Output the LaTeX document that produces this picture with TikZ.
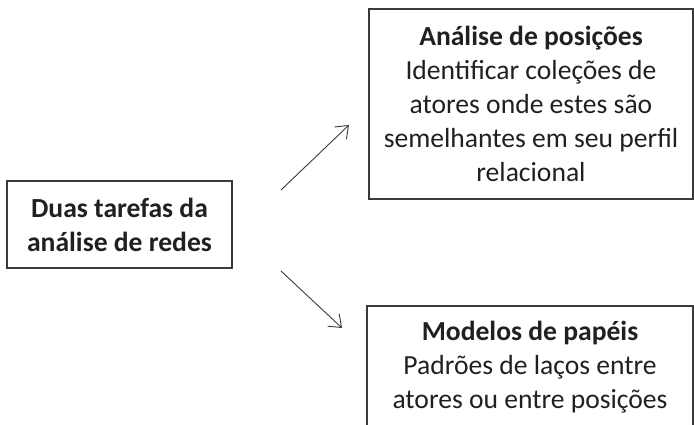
\documentclass[tikz,border=0pt]{standalone}
\usepackage{fontspec}
\setmainfont{Carlito}
\usepackage{xcolor}
\usepackage{tikz}
\usetikzlibrary{positioning, arrows.meta, calc}
\definecolor{boxline}{HTML}{3A3A3A}
\definecolor{inktext}{HTML}{231F20}

\begin{document}
\begin{tikzpicture}[x=1pt, y=1pt,
    taskbox/.style={draw=boxline, line width=1.5pt, align=center, text=inktext,
                    font=\fontsize{27.6}{34}\selectfont, inner sep=0pt},
    arrowline/.style={draw=boxline, line width=0.9pt, -{Straight Barb[length=11pt, width=17pt]}}]
    \useasboundingbox (0,0) rectangle (694,425);
    \clip (0,0) rectangle (694,425);
    \node[taskbox, minimum width=225pt, minimum height=87pt] (duas) at (119.5,200.5){%
      \textbf{Duas tarefas da}\\
      \textbf{análise de redes}};
    \node[taskbox, minimum width=324pt, minimum height=190pt] (posicoes) at (531,321){%
      \textbf{Análise de posições}\\
      Identificar coleções de\\
      atores onde estes são\\
      semelhantes em seu perfil\\
      relacional};
    \node[taskbox, minimum width=326pt, minimum height=122pt] (papeis) at (530,58){%
      \textbf{Modelos de papéis}\\
      Padrões de laços entre\\
      atores ou entre posições};
    % arrows between the boxes
    \coordinate (upstart) at (281,235);
    \coordinate (upend) at (349,300);
    \coordinate (downstart) at (281,154);
    \coordinate (downend) at (342,97);
    \draw[arrowline] (upstart) -- (upend);
    \draw[arrowline] (downstart) -- (downend);
  \end{tikzpicture}
\end{document}
